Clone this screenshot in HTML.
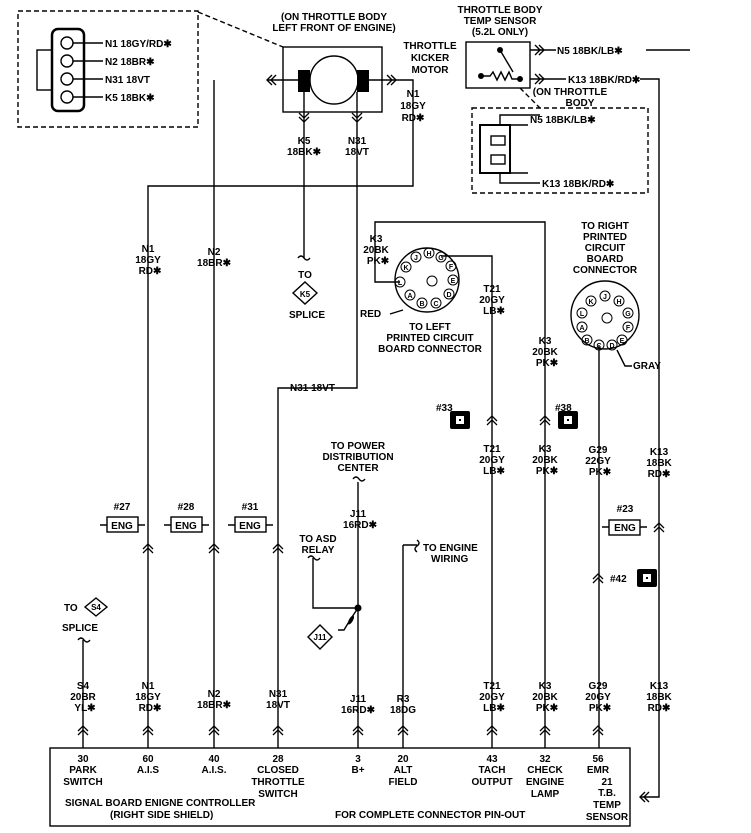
<!DOCTYPE html>
<html><head><meta charset="utf-8"><style>
html,body{margin:0;padding:0;background:#fff}
svg{display:block}
text{font-family:"Liberation Sans",sans-serif;font-size:10px;fill:#000;font-weight:bold}
</style></head><body>
<svg width="751" height="833" viewBox="0 0 751 833" xmlns="http://www.w3.org/2000/svg">
<defs>
<g id="up"><path d="M-5,4 L0,-1 L5,4 M-5,8 L0,3 L5,8" fill="none" stroke="#000" stroke-width="1.3"/></g>
<g id="dn"><path d="M-5,-4 L0,1 L5,-4 M-5,-8 L0,-3 L5,-8" fill="none" stroke="#000" stroke-width="1.3"/></g>
<g id="gnd"><rect x="-10" y="-9" width="20" height="18" rx="2" fill="#000"/><rect x="-4" y="-4" width="8" height="8" fill="#fff"/><rect x="-1" y="-1" width="2" height="2" fill="#000"/></g>
</defs>
<g stroke="#000" stroke-width="1.4" fill="none">
<rect x="18" y="11" width="180" height="116" stroke-dasharray="5,3"/>
<line x1="198" y1="12" x2="283" y2="47" stroke-dasharray="5,3"/>
<rect x="52" y="29" width="32" height="82" rx="6" stroke-width="2.5"/>
<rect x="37" y="50" width="15" height="40"/>
<circle cx="67" cy="43" r="6"/><circle cx="67" cy="61" r="6"/><circle cx="67" cy="79" r="6"/><circle cx="67" cy="97" r="6"/>
<path d="M73,43H103M73,61H103M73,79H103M73,97H103"/>
<rect x="283" y="47" width="99" height="65"/>
<circle cx="334" cy="80" r="24"/>
<path d="M268,80H298M369,80H413V186H148V748M214,80V748M304,92V258M357,92V388H278V748"/>
<path d="M272,75L267,80L272,85M276,75L271,80L276,85M387,75L392,80L387,85M391,75L396,80L391,85"/>
<rect x="466" y="42" width="64" height="46"/>
<path d="M530,50H550M530,79H550M550,50H556M550,79H566M646,50H690M640,79H659V797H640"/>
<path d="M535,45L540,50L535,55M539,45L544,50L539,55M535,74L540,79L535,84M539,74L544,79L539,84M645,792L640,797L645,802M649,792L644,797L649,802"/>
<path d="M481,76H490L493,72L497,80L501,72L505,80L509,72L512,79H520M500,50L513,72"/>
<line x1="520" y1="88" x2="540" y2="108" stroke-dasharray="5,3"/>
<rect x="472" y="108" width="176" height="85" stroke-dasharray="5,3"/>
<rect x="480" y="125" width="30" height="48" stroke-width="2"/>
<path d="M510,125H528M510,173H528M500,125V115H540M500,173V183H540"/>
<rect x="491" y="136" width="14" height="9"/><rect x="491" y="155" width="14" height="9"/>
<circle cx="427" cy="280" r="32"/>
<path d="M400,282H375V222H545V748M441,256H492V748"/>
<circle cx="605" cy="315" r="34"/>
<path d="M599,345V748M617,350L625,366H632"/>
<path d="M390,314L403,310"/>
<path d="M83,640V748M358,482V748M403,545V748M403,545H417M313,558V608H358"/>
<path d="M358,608L350,620L344,630H338"/>
<rect x="50" y="748" width="580" height="78"/>
<rect x="107" y="517" width="31" height="15"/><path d="M100,525H107M138,525H145"/>
<rect x="171" y="517" width="31" height="15"/><path d="M164,525H171M202,525H209"/>
<rect x="235" y="517" width="31" height="15"/><path d="M228,525H235M266,525H273"/>
<rect x="609" y="520" width="31" height="15"/><path d="M602,527H609M640,527H647"/>
<path d="M305,282L317,293L305,304L293,293Z"/>
<path d="M96,598L107,607L96,616L85,607Z"/>
<path d="M320,625L332,637L320,649L308,637Z"/>
<path d="M298,258q3,-4 6,0t6,0M78,640q3,-4 6,0t6,0M353,479q3,-4 6,0t6,0M308,558q3,-4 6,0t6,0M417,540q4,3 0,6t0,6"/>
</g>
<circle cx="358" cy="608" r="3.5" fill="#000"/>
<ellipse cx="351" cy="620" rx="2" ry="5" transform="rotate(30 351 620)" fill="#000"/>
<rect x="298" y="70" width="12" height="22" fill="#000"/><rect x="357" y="70" width="12" height="22" fill="#000"/>
<circle cx="500" cy="50" r="3" fill="#000"/><circle cx="481" cy="76" r="3" fill="#000"/><circle cx="520" cy="79" r="3" fill="#000"/>
<use href="#dn" x="304" y="121"/><use href="#dn" x="357" y="121"/>
<use href="#up" x="148" y="545"/><use href="#up" x="214" y="545"/><use href="#up" x="278" y="545"/>
<use href="#up" x="492" y="417"/><use href="#up" x="545" y="417"/><use href="#up" x="659" y="524"/><use href="#up" x="598" y="575"/>
<use href="#up" x="83" y="727"/><use href="#up" x="148" y="727"/><use href="#up" x="214" y="727"/><use href="#up" x="278" y="727"/><use href="#up" x="358" y="727"/><use href="#up" x="403" y="727"/><use href="#up" x="492" y="727"/><use href="#up" x="545" y="727"/><use href="#up" x="598" y="727"/>
<use href="#gnd" x="460" y="420"/><use href="#gnd" x="568" y="420"/><use href="#gnd" x="647" y="578"/>
<g fill="none" stroke="#000" stroke-width="1">
<circle cx="416" cy="257" r="5"/><circle cx="429" cy="253" r="5"/><circle cx="441" cy="257" r="5"/><circle cx="406" cy="267" r="5"/><circle cx="451" cy="266" r="5"/><circle cx="400" cy="282" r="5"/><circle cx="453" cy="280" r="5"/><circle cx="410" cy="295" r="5"/><circle cx="449" cy="294" r="5"/><circle cx="422" cy="303" r="5"/><circle cx="436" cy="303" r="5"/>
<circle cx="432" cy="281" r="5"/>
<circle cx="591" cy="301" r="5"/><circle cx="605" cy="296" r="5"/><circle cx="619" cy="301" r="5"/><circle cx="582" cy="313" r="5"/><circle cx="628" cy="313" r="5"/><circle cx="582" cy="327" r="5"/><circle cx="628" cy="327" r="5"/><circle cx="587" cy="340" r="5"/><circle cx="622" cy="340" r="5"/><circle cx="599" cy="345" r="5"/><circle cx="612" cy="345" r="5"/>
<circle cx="607" cy="318" r="5"/>
</g>
<g text-anchor="middle">
<text x="416" y="260" style="font-size:7px">J</text><text x="429" y="256" style="font-size:7px">H</text><text x="441" y="260" style="font-size:7px">G</text><text x="406" y="270" style="font-size:7px">K</text><text x="451" y="269" style="font-size:7px">F</text><text x="400" y="285" style="font-size:7px">L</text><text x="453" y="283" style="font-size:7px">E</text><text x="410" y="298" style="font-size:7px">A</text><text x="449" y="297" style="font-size:7px">D</text><text x="422" y="306" style="font-size:7px">B</text><text x="436" y="306" style="font-size:7px">C</text>
<text x="591" y="304" style="font-size:7px">K</text><text x="605" y="299" style="font-size:7px">J</text><text x="619" y="304" style="font-size:7px">H</text><text x="582" y="316" style="font-size:7px">L</text><text x="628" y="316" style="font-size:7px">G</text><text x="582" y="330" style="font-size:7px">A</text><text x="628" y="330" style="font-size:7px">F</text><text x="587" y="343" style="font-size:7px">B</text><text x="622" y="343" style="font-size:7px">E</text><text x="599" y="348" style="font-size:7px">C</text><text x="612" y="348" style="font-size:7px">D</text>
</g>
<g>
<text x="105" y="47">N1 18GY/RD✱</text><text x="105" y="65">N2 18BR✱</text><text x="105" y="83">N31 18VT</text><text x="105" y="101">K5 18BK✱</text>
<text x="557" y="54">N5 18BK/LB✱</text><text x="568" y="83">K13 18BK/RD✱</text>
<text x="530" y="123">N5 18BK/LB✱</text><text x="542" y="187">K13 18BK/RD✱</text>
<text x="290" y="391">N31 18VT</text>
<text x="360" y="317">RED</text><text x="633" y="369">GRAY</text>
<text x="64" y="611">TO</text>
<text x="423" y="551">TO ENGINE</text><text x="431" y="562">WIRING</text>
<text x="436" y="411">#33</text><text x="555" y="411">#38</text><text x="610" y="582">#42</text>
<text x="65" y="806">SIGNAL BOARD ENIGNE CONTROLLER</text><text x="110" y="818">(RIGHT SIDE SHIELD)</text>
<text x="335" y="818">FOR COMPLETE CONNECTOR PIN-OUT</text>
</g>
<g text-anchor="middle">
<text x="334" y="20">(ON THROTTLE BODY</text><text x="334" y="31">LEFT FRONT OF ENGINE)</text>
<text x="430" y="49">THROTTLE</text><text x="430" y="61">KICKER</text><text x="430" y="73">MOTOR</text>
<text x="413" y="97">N1</text><text x="413" y="109">18GY</text><text x="413" y="121">RD✱</text>
<text x="304" y="144">K5</text><text x="304" y="155">18BK✱</text><text x="357" y="144">N31</text><text x="357" y="155">18VT</text>
<text x="500" y="13">THROTTLE BODY</text><text x="500" y="24">TEMP SENSOR</text><text x="500" y="35">(5.2L ONLY)</text>
<text x="570" y="95">(ON THROTTLE</text><text x="580" y="106">BODY</text>
<text x="148" y="252">N1</text><text x="148" y="263">18GY</text><text x="150" y="274">RD✱</text>
<text x="214" y="255">N2</text><text x="214" y="266">18BR✱</text>
<text x="305" y="278">TO</text><text x="305" y="297" style="font-size:8px">K5</text><text x="307" y="318">SPLICE</text>
<text x="376" y="242">K3</text><text x="376" y="253">20BK</text><text x="378" y="264">PK✱</text>
<text x="492" y="292">T21</text><text x="492" y="303">20GY</text><text x="494" y="314">LB✱</text>
<text x="430" y="330">TO LEFT</text><text x="430" y="341">PRINTED CIRCUIT</text><text x="430" y="352">BOARD CONNECTOR</text>
<text x="545" y="344">K3</text><text x="545" y="355">20BK</text><text x="547" y="366">PK✱</text>
<text x="605" y="229">TO RIGHT</text><text x="605" y="240">PRINTED</text><text x="605" y="251">CIRCUIT</text><text x="605" y="262">BOARD</text><text x="605" y="273">CONNECTOR</text>
<text x="492" y="452">T21</text><text x="492" y="463">20GY</text><text x="494" y="474">LB✱</text>
<text x="545" y="452">K3</text><text x="545" y="463">20BK</text><text x="547" y="474">PK✱</text>
<text x="598" y="453">G29</text><text x="598" y="464">22GY</text><text x="600" y="475">PK✱</text>
<text x="659" y="455">K13</text><text x="659" y="466">18BK</text><text x="659" y="477">RD✱</text>
<text x="625" y="512">#23</text><text x="625" y="531">ENG</text>
<text x="122" y="510">#27</text><text x="122" y="529">ENG</text>
<text x="186" y="510">#28</text><text x="186" y="529">ENG</text>
<text x="250" y="510">#31</text><text x="250" y="529">ENG</text>
<text x="358" y="449">TO POWER</text><text x="358" y="460">DISTRIBUTION</text><text x="358" y="471">CENTER</text>
<text x="358" y="517">J11</text><text x="360" y="528">16RD✱</text>
<text x="318" y="542">TO ASD</text><text x="318" y="553">RELAY</text>
<text x="320" y="640" style="font-size:8px">J11</text><text x="96" y="610" style="font-size:8px">S4</text>
<text x="80" y="631">SPLICE</text>
<text x="83" y="689">S4</text><text x="83" y="700">20BR</text><text x="85" y="711">YL✱</text>
<text x="148" y="689">N1</text><text x="148" y="700">18GY</text><text x="150" y="711">RD✱</text>
<text x="214" y="697">N2</text><text x="214" y="708">18BR✱</text>
<text x="278" y="697">N31</text><text x="278" y="708">18VT</text>
<text x="358" y="702">J11</text><text x="358" y="713">16RD✱</text>
<text x="403" y="702">R3</text><text x="403" y="713">18DG</text>
<text x="492" y="689">T21</text><text x="492" y="700">20GY</text><text x="494" y="711">LB✱</text>
<text x="545" y="689">K3</text><text x="545" y="700">20BK</text><text x="547" y="711">PK✱</text>
<text x="598" y="689">G29</text><text x="598" y="700">20GY</text><text x="600" y="711">PK✱</text>
<text x="659" y="689">K13</text><text x="659" y="700">18BK</text><text x="659" y="711">RD✱</text>
<text x="83" y="762">30</text><text x="83" y="773">PARK</text><text x="83" y="785">SWITCH</text>
<text x="148" y="762">60</text><text x="148" y="773">A.I.S</text>
<text x="214" y="762">40</text><text x="214" y="773">A.I.S.</text>
<text x="278" y="762">28</text><text x="278" y="773">CLOSED</text><text x="278" y="785">THROTTLE</text><text x="278" y="797">SWITCH</text>
<text x="358" y="762">3</text><text x="358" y="773">B+</text>
<text x="403" y="762">20</text><text x="403" y="773">ALT</text><text x="403" y="785">FIELD</text>
<text x="492" y="762">43</text><text x="492" y="773">TACH</text><text x="492" y="785">OUTPUT</text>
<text x="545" y="762">32</text><text x="545" y="773">CHECK</text><text x="545" y="785">ENGINE</text><text x="545" y="797">LAMP</text>
<text x="598" y="762">56</text><text x="598" y="773">EMR</text>
<text x="607" y="785">21</text><text x="607" y="796">T.B.</text><text x="607" y="808">TEMP</text><text x="607" y="820">SENSOR</text>
</g>
</svg>
</body></html>
